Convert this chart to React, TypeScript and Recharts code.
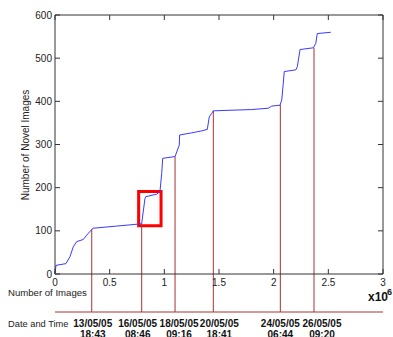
import { LineChart, Line, XAxis, YAxis, ReferenceLine, ReferenceArea } from 'recharts'

// cumulative novel images vs images processed (x in millions)
const imagesM = [0, 0.009, 0.10, 0.137, 0.167, 0.198, 0.259, 0.29, 0.336, 0.348, 0.564, 0.777, 0.793, 0.823, 0.83, 0.93, 0.96, 0.976, 0.985, 1.098, 1.137, 1.14, 1.25, 1.333, 1.393, 1.411, 1.433, 1.448, 1.799, 1.951, 1.982, 2.058, 2.074, 2.088, 2.097, 2.204, 2.216, 2.241, 2.363, 2.385, 2.399, 2.522]
const novelCount = [0, 20, 24, 40, 63, 75, 80, 90, 103, 106, 111, 116, 117, 175, 179, 185, 191, 233, 268, 272, 299, 322, 327, 331, 335, 364, 372, 378, 381, 384, 389, 391, 403, 442, 469, 473, 480, 520, 524, 534, 557, 560]

const xTicks = [0, 0.5, 1, 1.5, 2, 2.5, 3]
const yTicks = [0, 100, 200, 300, 400, 500, 600]

// date markers
const markX = [0.336, 0.793, 1.098, 1.448, 2.061, 2.369]
const markY = [104, 117, 272, 378, 392, 524]
const markDate = ['13/05/05', '16/05/05', '18/05/05', '20/05/05', '24/05/05', '26/05/05']
const markTime = ['18:43', '08:46', '09:16', '18:41', '06:44', '09:20']
const DATE_LINE_Y = -88

// highlighted region
const boxX = [0.765, 0.97]
const boxY = [112, 191]

const data = imagesM.map((x, i) => ({ x, y: novelCount[i] }))

const FONT = '"Liberation Sans", Arial, sans-serif'
const FRAME = '#333'
const MARK = '#a83232'
// date labels are nudged sideways so they don't collide
const LABEL_SHIFT = [1, -4, 4, 6, 0, 8]

const BottomTick = ({ x, y, payload }: any) => (
  <g>
    <line x1={x} x2={x} y1={y} y2={y - 5} stroke={FRAME} />
    <text x={x} y={y + 12} textAnchor="middle" fontSize={10} fill="#222" fontFamily={FONT}>{payload.value}</text>
  </g>
)
const TopTick = ({ x, y }: any) => <line x1={x} x2={x} y1={y} y2={y + 5} stroke={FRAME} />
const LeftTick = ({ x, y, payload }: any) => (
  <g>
    <line x1={x} x2={x + 5} y1={y} y2={y} stroke={FRAME} />
    <text x={x - 3} y={y + 3.5} textAnchor="end" fontSize={10} fill="#222" fontFamily={FONT}>{payload.value}</text>
  </g>
)
const RightTick = ({ x, y }: any) => <line x1={x} x2={x - 5} y1={y} y2={y} stroke={FRAME} />
const DateTick = ({ x, y, index }: any) => (
  <g fontFamily={FONT} fontSize={10} fontWeight="bold" fill="#111" textAnchor="middle">
    <text x={x + LABEL_SHIFT[index]} y={y + 15}>{markDate[index]}</text>
    <text x={x + LABEL_SHIFT[index]} y={y + 26}>{markTime[index]}</text>
  </g>
)

export default function App() {
  return (
    <div style={{ position: 'absolute', left: 0, top: 0, width: 393, height: 337, background: '#fff' }}>
      <LineChart width={393} height={337} data={data} margin={{ top: 5, right: 0, bottom: 0, left: 0 }}>
        <XAxis dataKey="x" type="number" domain={[0, 3]} ticks={xTicks} height={38} interval={0}
          axisLine={{ stroke: FRAME }} tickLine={false} tickSize={0} tickMargin={0} tick={<BottomTick />} />
        <XAxis xAxisId="date" dataKey="x" type="number" domain={[0, 3]} ticks={markX} height={25} allowDataOverflow interval={0}
          axisLine={{ stroke: MARK }} tickLine={false} tickSize={0} tickMargin={0} tick={<DateTick />} />
        <XAxis xAxisId="top" dataKey="x" orientation="top" type="number" domain={[0, 3]} ticks={xTicks} height={10} allowDataOverflow interval={0}
          axisLine={{ stroke: FRAME }} tickLine={false} tickSize={0} tickMargin={0} tick={<TopTick />} />
        <YAxis type="number" domain={[0, 600]} ticks={yTicks} width={55} interval={0}
          axisLine={{ stroke: FRAME }} tickLine={false} tickSize={0} tickMargin={0} tick={<LeftTick />} />
        <YAxis yAxisId="right" orientation="right" type="number" domain={[0, 600]} ticks={yTicks} width={10} allowDataOverflow interval={0}
          axisLine={{ stroke: FRAME }} tickLine={false} tickSize={0} tickMargin={0} tick={<RightTick />} />

        {/* invisible series so the helper axes get the same scale */}
        <Line xAxisId="date" yAxisId="right" dataKey="y" stroke="none" dot={false} activeDot={false} isAnimationActive={false} />
        <Line xAxisId="top" yAxisId="right" dataKey="y" stroke="none" dot={false} activeDot={false} isAnimationActive={false} />

        {markX.map((mx, i) => (
          <ReferenceLine key={i} segment={[{ x: mx, y: markY[i] }, { x: mx, y: DATE_LINE_Y }]}
            stroke={MARK} strokeWidth={1} ifOverflow="visible" />
        ))}

        <Line dataKey="y" type="linear" stroke="#3a3aff" strokeWidth={1} dot={false} isAnimationActive={false} />

        <ReferenceArea x1={boxX[0]} x2={boxX[1]} y1={boxY[0]} y2={boxY[1]} fill="none" fillOpacity={0}
          stroke="#ff0000" strokeWidth={3} ifOverflow="visible" />
      </LineChart>

      <svg width={393} height={337} style={{ position: 'absolute', left: 0, top: 0, pointerEvents: 'none' }}
        fontFamily={FONT} fill="#222">
        <text x={29} y={145} fontSize={10} textAnchor="middle" transform="rotate(-90 29 145)">Number of Novel Images</text>
        <text x={8} y={296} fontSize={9.6}>Number of Images</text>
        <text x={8} y={327} fontSize={9.3}>Date and Time</text>
        <text x={368} y={301} fontSize={12} fontWeight="bold" fill="#111">x10</text>
        <text x={387} y={295} fontSize={9} fontWeight="bold" fill="#111">6</text>
      </svg>
    </div>
  )
}
